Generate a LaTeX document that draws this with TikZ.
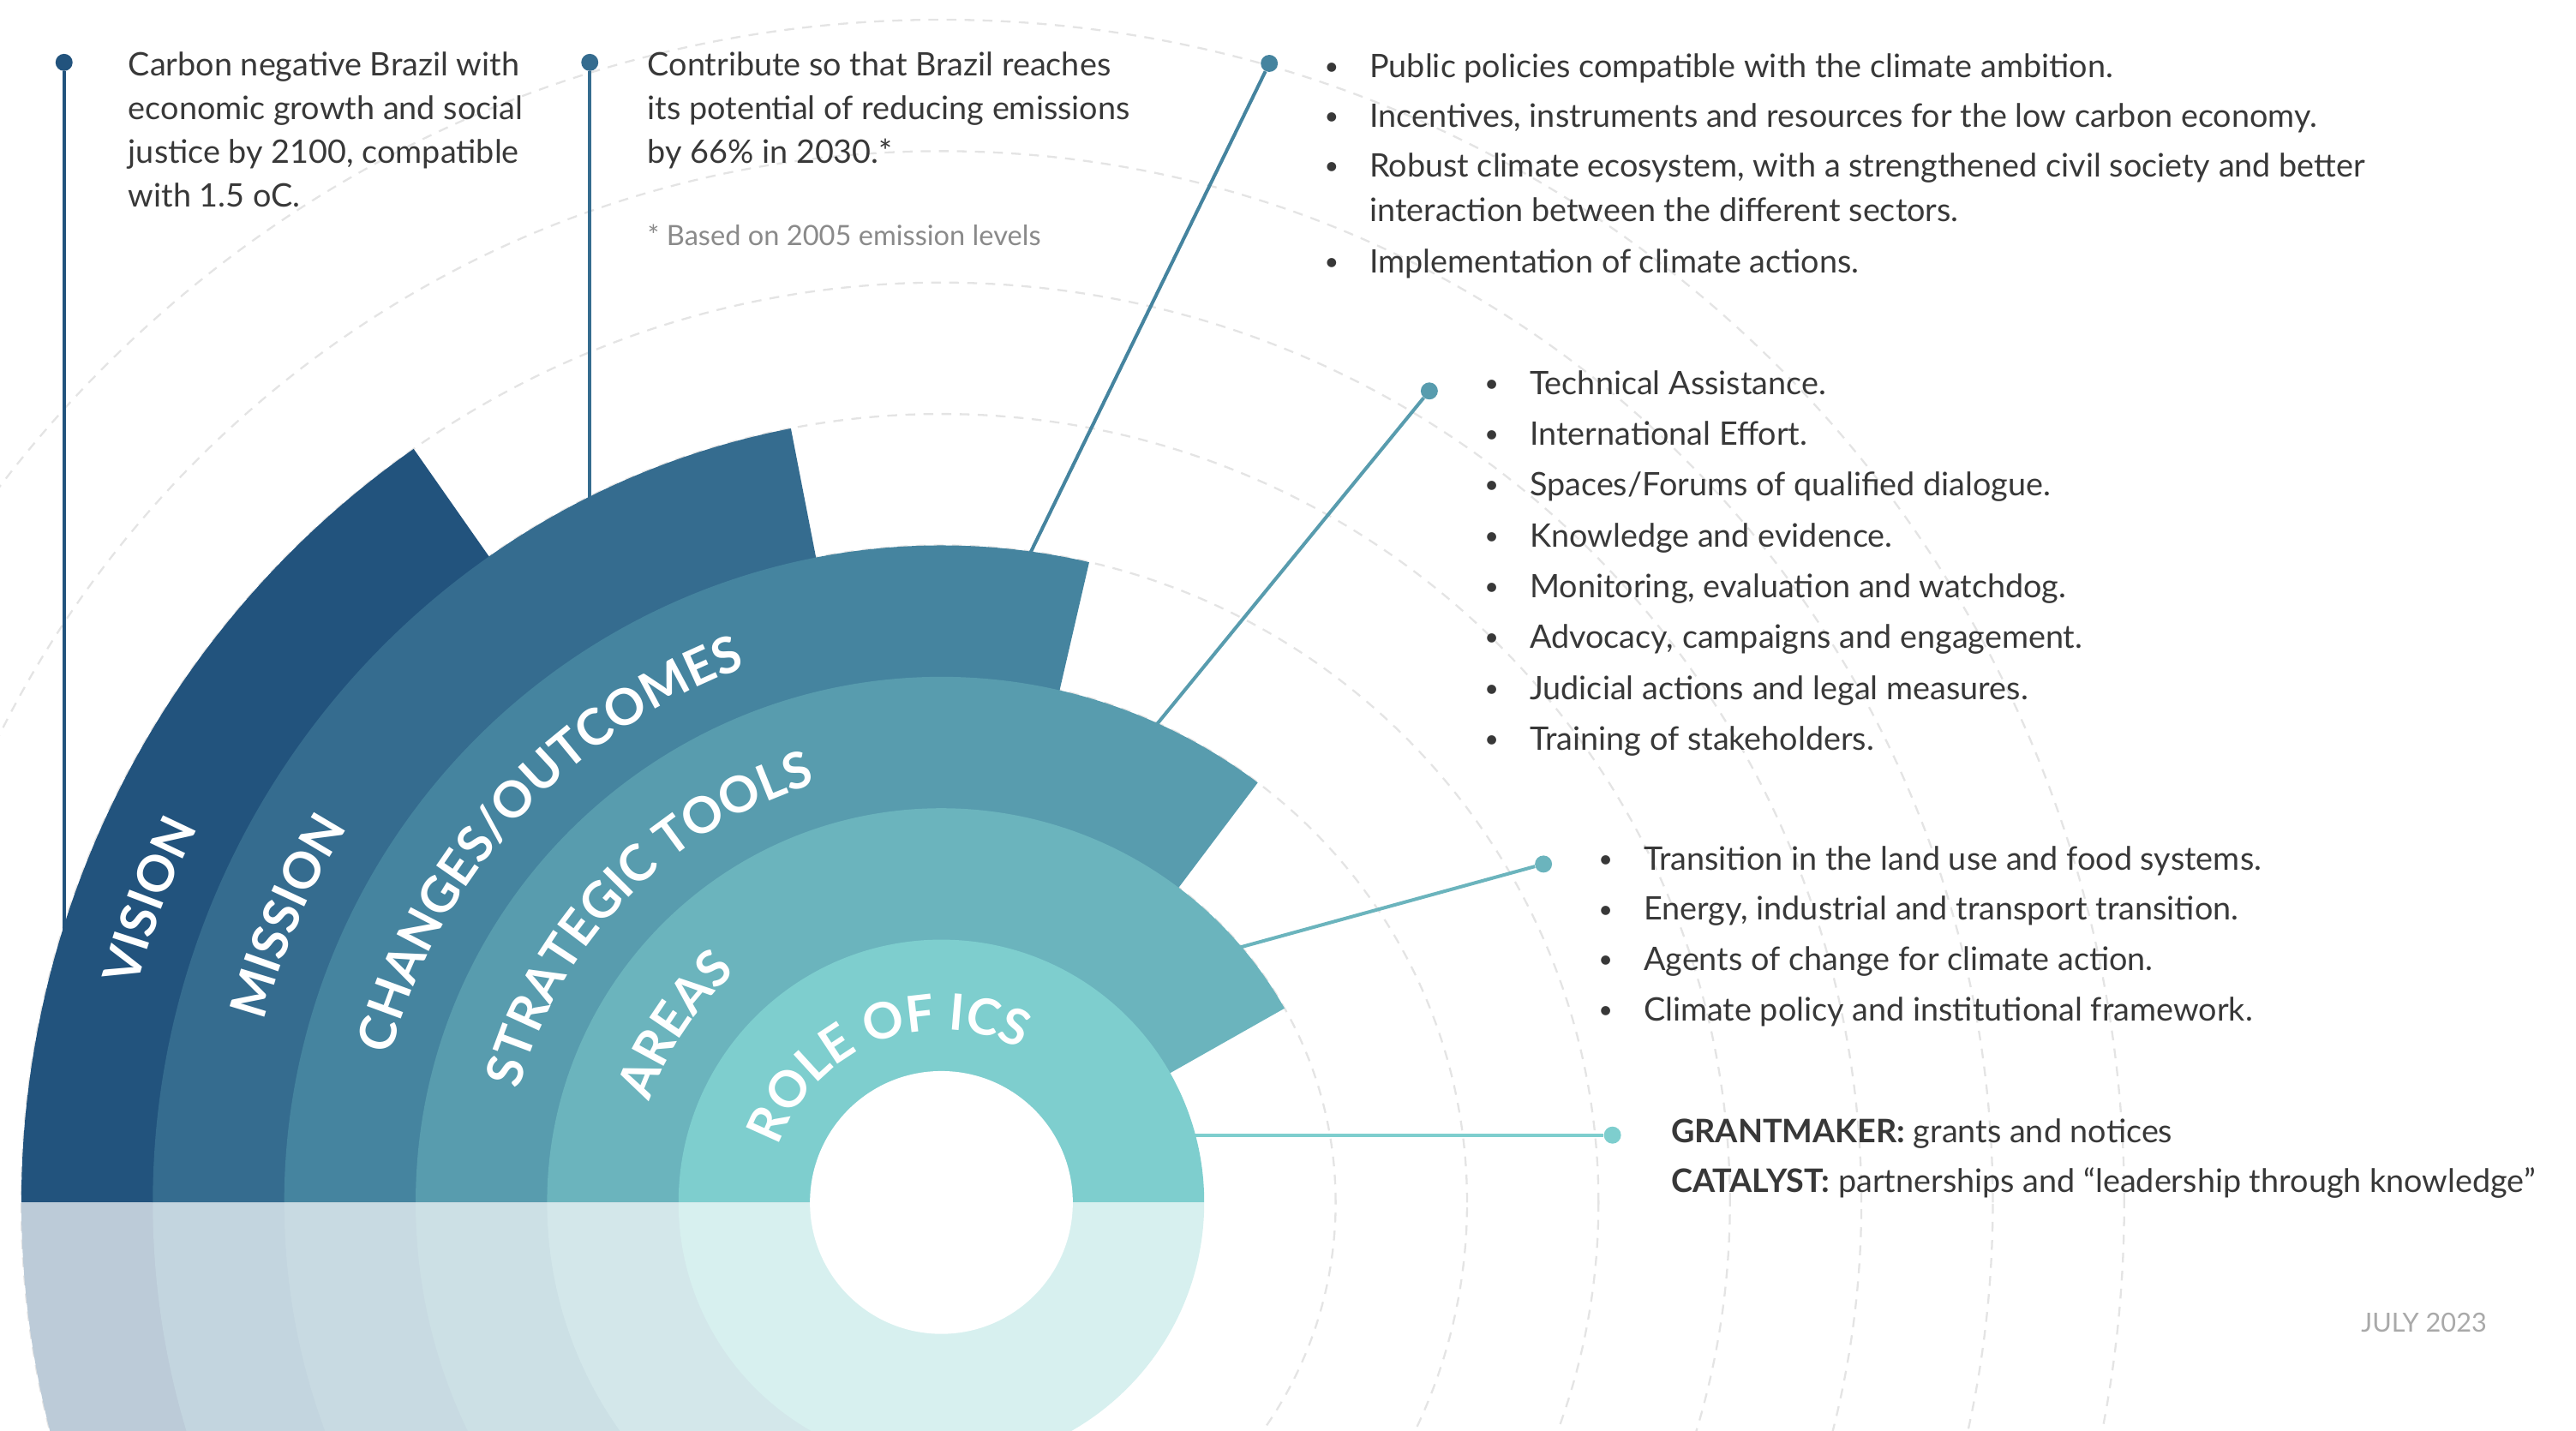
\documentclass[tikz,border=0pt]{standalone}
\usepackage{fontspec}
\setmainfont{Lato}
\usetikzlibrary{calc,decorations.text}
\definecolor{cVis}{HTML}{22537D}
\definecolor{cMis}{HTML}{356C8F}
\definecolor{cCha}{HTML}{45849F}
\definecolor{cStr}{HTML}{589CAE}
\definecolor{cAre}{HTML}{6BB4BD}
\definecolor{cRol}{HTML}{7ECECE}
\definecolor{lVis}{HTML}{BCCBD8}
\definecolor{lMis}{HTML}{C3D5DF}
\definecolor{lCha}{HTML}{C8DAE2}
\definecolor{lStr}{HTML}{CCE0E5}
\definecolor{lAre}{HTML}{D3E7EA}
\definecolor{lRol}{HTML}{D7F0EF}
\definecolor{cTxt}{HTML}{383838}
\definecolor{cNote}{HTML}{8A8A8A}
\definecolor{cDate}{HTML}{A9A9A9}
\definecolor{cDash}{HTML}{E4E4E4}
\newcommand\ringfont{\bfseries\fontsize{30.5}{30.5}\selectfont}
\begin{document}
\begin{tikzpicture}[x=1pt,y=1pt,
  txt/.style={anchor=base west, inner sep=0pt, text=cTxt, font=\fontsize{19.7}{23}\selectfont},
  bul/.style={anchor=base, inner sep=0pt, text=cTxt, font=\fontsize{15}{18}\selectfont},
  dotn/.style={circle, inner sep=0pt, minimum size=10.4pt},
  conn/.style={line width=2.1pt},
  dashc/.style={draw=cDash, line width=1.2pt, dash pattern=on 6pt off 5pt}]
\useasboundingbox (0,0) rectangle (1568,871);
\clip (0,0) rectangle (1568,871);
\coordinate (O) at (573,139);
% dashed guide circles
\foreach \rr in {240,320,...,720} \draw[dashc] (O) circle[radius=\rr pt];
% connectors
\node[dotn, fill=cVis] (dv) at (39,833) {};
\coordinate (ev) at (39,300);
\draw[conn, draw=cVis] (dv) -- (ev);
\node[dotn, fill=cMis] (dm) at (359,833) {};
\coordinate (em) at (359,560);
\draw[conn, draw=cMis] (dm) -- (em);
\node[dotn, fill=cCha] (dc) at (772.6,832.4) {};
\coordinate (ec) at (625,530);
\draw[conn, draw=cCha] (dc) -- (ec);
\node[dotn, fill=cStr] (ds) at (870,633) {};
\coordinate (es) at (700,425);
\draw[conn, draw=cStr] (ds) -- (es);
\node[dotn, fill=cAre] (da) at (939.5,345) {};
\coordinate (ea) at (750,293);
\draw[conn, draw=cAre] (da) -- (ea);
\node[dotn, fill=cRol] (dr) at (981.5,180) {};
\coordinate (er) at (720,180);
\draw[conn, draw=cRol] (dr) -- (er);
% upper rings
\fill[cVis] (O) -- ++(180:560pt) arc[start angle=180, end angle=125, radius=560pt] -- cycle;
\fill[cMis] (O) -- ++(180:480pt) arc[start angle=180, end angle=101, radius=480pt] -- cycle;
\fill[cCha] (O) -- ++(180:400pt) arc[start angle=180, end angle=77, radius=400pt] -- cycle;
\fill[cStr] (O) -- ++(180:320pt) arc[start angle=180, end angle=53, radius=320pt] -- cycle;
\fill[cAre] (O) -- ++(180:240pt) arc[start angle=180, end angle=29.5, radius=240pt] -- cycle;
\fill[cRol] (O) -- ++(180:160pt) arc[start angle=180, end angle=0, radius=160pt] -- cycle;
% lower light half
\fill[lVis] (O) -- ++(180:560pt) arc[start angle=180, end angle=270, radius=560pt] -- cycle;
\fill[lMis] (O) -- ++(180:480pt) arc[start angle=180, end angle=270, radius=480pt] -- cycle;
\fill[lCha] (O) -- ++(180:400pt) arc[start angle=180, end angle=270, radius=400pt] -- cycle;
\fill[lStr] (O) -- ++(180:320pt) arc[start angle=180, end angle=270, radius=320pt] -- cycle;
\fill[lAre] (O) -- ++(180:240pt) arc[start angle=180, end angle=270, radius=240pt] -- cycle;
\fill[lRol] (O) -- ++(180:160pt) arc[start angle=180, end angle=360, radius=160pt] -- cycle;
\fill[white] (O) circle[radius=80pt];
% ring labels
\path[decorate, decoration={text along path, text={|\ringfont|VISION}, text color=white, text align=left}]
  ($(O)+(165:507pt)$) arc[start angle=165, end angle=60, radius=507pt];
\path[decorate, decoration={text along path, text={|\ringfont|MISSION}, text color=white, text align=left}]
  ($(O)+(165:427pt)$) arc[start angle=165, end angle=40, radius=427pt];
\path[decorate, decoration={text along path, text={|\ringfont|CHANGES/OUTCOMES}, text color=white, text align=left}]
  ($(O)+(165:347pt)$) arc[start angle=165, end angle=20, radius=347pt];
\path[decorate, decoration={text along path, text={|\ringfont|STRATEGIC TOOLS}, text color=white, text align=left}]
  ($(O)+(165:266pt)$) arc[start angle=165, end angle=5, radius=266pt];
\path[decorate, decoration={text along path, text={|\ringfont|AREAS}, text color=white, text align=left}]
  ($(O)+(161:188pt)$) arc[start angle=161, end angle=20, radius=188pt];
\path[decorate, decoration={text along path, text={|\ringfont|ROLE OF ICS}, text color=white, text align=left}]
  ($(O)+(161:105pt)$) arc[start angle=161, end angle=0, radius=105pt];
% vision text
\foreach \t [count=\i] in {Carbon negative Brazil with, economic growth and social, {justice by 2100, compatible}, with 1.5 oC.}
  \node[txt] (v\i) at (78,{825-26.6*(\i-1)}) {\t};
% mission text
\foreach \t [count=\i] in {Contribute so that Brazil reaches, its potential of reducing emissions, by 66\% in 2030.*}
  \node[txt] (m\i) at (394,{825-26.6*(\i-1)}) {\t};
\node[txt, text=cNote, font=\fontsize{17}{20}\selectfont] (mnote) at (394,721.4) {* Based on 2005 emission levels};
% changes bullets
\foreach \y [count=\i] in {824,793.6,763.2,705} \node[bul] (cb\i) at (810.6,\y+1.5) {•};
\node[txt] (c1) at (833.5,824) {Public policies compatible with the climate ambition.};
\node[txt] (c2) at (833.5,793.6) {Incentives, instruments and resources for the low carbon economy.};
\node[txt] (c3) at (833.5,763.2) {Robust climate ecosystem, with a strengthened civil society and better};
\node[txt] (c4) at (833.5,736.2) {interaction between the different sectors.};
\node[txt] (c5) at (833.5,705) {Implementation of climate actions.};
% strategic tools bullets
\foreach \t [count=\i] in {Technical Assistance., International Effort., Spaces/Forums of qualified dialogue., Knowledge and evidence., {Monitoring, evaluation and watchdog.}, {Advocacy, campaigns and engagement.}, Judicial actions and legal measures., Training of stakeholders.} {
  \node[bul] (sb\i) at (908,{632.5-30.95*(\i-1)}) {•};
  \node[txt] (s\i) at (931,{631-30.95*(\i-1)}) {\t};
}
% areas bullets
\foreach \t [count=\i] in {Transition in the land use and food systems., {Energy, industrial and transport transition.}, Agents of change for climate action., Climate policy and institutional framework.} {
  \node[bul] (ab\i) at (977.4,{343-30.7*(\i-1)}) {•};
  \node[txt] (a\i) at (1000.3,{341.5-30.7*(\i-1)}) {\t};
}
% role text
\node[txt] (r1) at (1017,175.5) {\textbf{GRANTMAKER:} grants and notices};
\node[txt] (r2) at (1017,145) {\textbf{CATALYST:} partnerships and “leadership through knowledge”};
% date
\node[txt, text=cDate, font=\fontsize{16}{19}\selectfont] (date) at (1437,60.4) {JULY 2023};
\end{tikzpicture}
\end{document}
